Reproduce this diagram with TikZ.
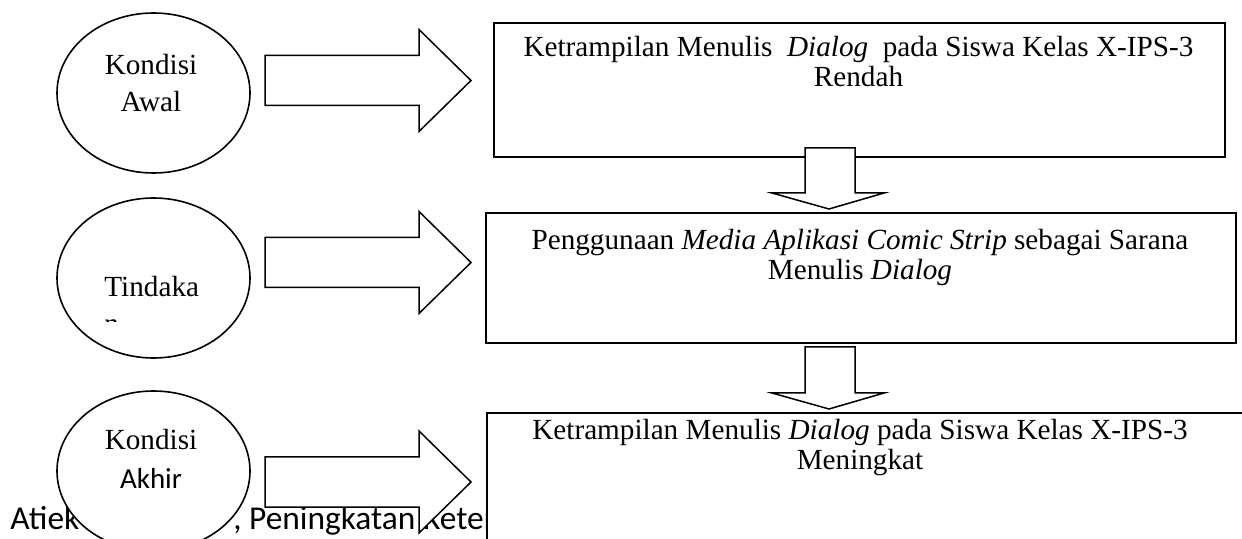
\documentclass[tikz,border=0pt]{standalone}
\usepackage{fontspec}
\setmainfont{Liberation Serif}
\newfontfamily\calibri{Carlito}
\usetikzlibrary{shapes.geometric}

\tikzset{
  stage/.style={draw, ellipse, fill=white, line width=0.8pt,
    minimum width=96.5pt, minimum height=80pt, inner sep=0pt},
  stagetext/.style={inner sep=0pt, align=center,
    font=\fontsize{14.6}{18.5}\selectfont},
  box/.style={draw, fill=white, line width=1pt, anchor=north west, inner sep=0pt},
  boxtext/.style={anchor=base, align=center, inner sep=0pt,
    font=\fontsize{14.6}{15.3}\selectfont},
  blockarrow/.style={draw, fill=white, line width=0.75pt, line join=miter}
}

\begin{document}
\begin{tikzpicture}[x=0.5pt,y=-0.5pt]
  \useasboundingbox (0,0) rectangle (1242,539);
  \clip (0,0) rectangle (1242,539);

  % running footer, lies under the shapes
  \node[anchor=base west, inner sep=0pt, font=\calibri\fontsize{16.7}{19}\selectfont]
    (footer) at (10,529) {Atiek\hspace{77pt}, Peningkatan Keter};

  % left column
  \node[stage] (awal) at (153.5,93) {};
  \node[stage] (tindakan) at (153.5,278) {};
  \node[stage] (akhir) at (153.5,471) {};

  \node[stagetext, anchor=base] (awaltext) at (151,112) {Kondisi\\Awal};
  \node[stagetext, anchor=base, font=\fontsize{14.6}{19.5}\selectfont]
    (akhirtext) at (151,488) {Kondisi\\{\calibri\fontsize{14.5}{16}\selectfont Akhir}};
  \node[stagetext, anchor=base west] (tindakantext) at (104,297) {Tindaka};
  \begin{scope}
    \clip (100,300) rectangle (200,322);
    \node[stagetext, anchor=base west] (tindakanrest) at (104,334) {n};
  \end{scope}

  % arrows to the right
  \foreach \y in {80.5,262.5,482}
    \draw[blockarrow] (265,\y-25) -- (419,\y-25) -- (419,\y-51) -- (471,\y)
      -- (419,\y+51) -- (419,\y+25) -- (265,\y+25) -- cycle;

  % right column
  \node[box, minimum width=365.5pt, minimum height=67pt] (rendah) at (493,22) {};
  \node[box, minimum width=375pt, minimum height=65pt] (media) at (485,212) {};
  \node[box, minimum width=500pt, minimum height=100pt] (meningkat) at (486,412) {};

  \node[boxtext] (rendahtext) at (858.5,87)
    {Ketrampilan Menulis\ \ \textit{Dialog}\ \ pada Siswa Kelas X-IPS-3\\Rendah};
  \node[boxtext] (mediatext) at (860,280)
    {Penggunaan \textit{Media Aplikasi Comic Strip} sebagai Sarana\\Menulis \textit{Dialog}};
  \node[boxtext] (meningkattext) at (860,470)
    {Ketrampilan Menulis \textit{Dialog} pada Siswa Kelas X-IPS-3\\Meningkat};

  % arrows down
  \foreach \t/\b in {148/193, 347/393}
    \draw[blockarrow] (805,\t) -- (805,\b) -- (772,\b) -- (829,\b+16)
      -- (884,\b) -- (855,\b) -- (855,\t) -- cycle;
\end{tikzpicture}
\end{document}
